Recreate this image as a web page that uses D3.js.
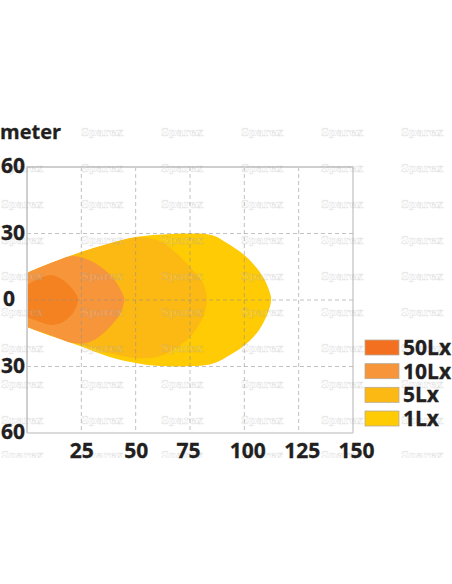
<!DOCTYPE html>
<html>
<head>
<meta charset="utf-8">
<script src="https://cdn.jsdelivr.net/npm/d3@7"></script>
<style>
html,body{margin:0;padding:0;background:#fff;overflow:hidden}
svg{display:block}
text{font-family:"Open Sans",sans-serif;font-weight:700;fill:#231f20;stroke:#231f20;stroke-width:.3}
text.wm{font-family:"DejaVu Serif",serif;font-size:11px;fill:#fff;fill-opacity:.14;stroke:#8a8a8a;stroke-opacity:.22;stroke-width:.7}
</style>
</head>
<body>
<div id="viz"></div>
<script>
// values: [metres ahead, metres across]
const lx1 = [[0,12.2],[12,17],[25,21.6],[38,25.5],[50,28.4],[66,29.8],[75,30],[81,29.9],[86,29],[92,25.7],[101,19.4],[108.6,10.4],[112,2.5],[112.3,0],[111.3,-4.5],[106.8,-13.5],[99.4,-21],[92,-25.6],[87,-28.2],[81,-29.6],[75,-29.9],[61,-29.8],[50,-28.4],[38,-25.7],[25,-21],[12,-16.5],[0,-12.2]]
const lx5 = [[0,12.2],[12,17],[25,21.6],[38,25.5],[50,28.2],[56,28],[61,26.6],[67.2,22.5],[75,14.9],[81,7.7],[82.8,0],[81,-7.7],[75,-16.7],[67.2,-22.5],[59.8,-25.7],[50,-26.2],[38.2,-24],[25,-20.3],[12,-16.5],[0,-12.2]]
const lx10 = [[0,12.2],[12,17],[21.2,19.8],[30.4,17.1],[39.6,9.9],[44.6,1.4],[44.8,0],[43,-5.9],[36.8,-13.5],[29,-18.9],[21.2,-19.4],[10.6,-15.8],[0,-12.2]]
const lx50 = [[0,6.8],[10.6,11.3],[16.6,9],[22,3.6],[23.5,0],[21.2,-5.9],[16.6,-9.9],[11.5,-11.3],[6,-9.9],[0,-7.7]]

const legendNames = ["50Lx","10Lx","5Lx","1Lx"]
const legendColors = ["#f37021","#f7953b","#fdb913","#ffcb05"]
const xTicks = [25,50,75,100,125,150]
const yTicks = [60,30,0,-30,-60]
const stampColumns = [22,102,182,262,342,422]
const stampRows = [132,168,204,240,276,312,348,384,420,455]

const width = 452, height = 584
const plotLeft = 27, plotRight = 353, plotTop = 167, plotBottom = 433

const svg = d3.select("#viz").append("svg").attr("width",width).attr("height",height)
const x = d3.scaleLinear().domain([0,150]).range([plotLeft,plotRight])
const y = d3.scaleLinear().domain([60,-60]).range([plotTop,plotBottom])

// light patterns, widest first
const outline = d3.line().x(d => x(d[0])).y(d => y(d[1])).curve(d3.curveCatmullRom.alpha(0.5))
const shapes = [[lx1,"#ffcb05"],[lx5,"#fdb913"],[lx10,"#f7953b"],[lx50,"#f58220"]]
svg.selectAll("path.beam").data(shapes).join("path")
  .attr("class","beam")
  .attr("d",d => outline(d[0]) + "Z")
  .attr("fill",d => d[1])

// grid sits on top of the colours
const grid = svg.append("g").attr("fill","none").attr("stroke","#8f8f8f").attr("stroke-opacity",.55).attr("stroke-width",1).attr("stroke-dasharray","4 3")
xTicks.slice(0,-1).forEach(t => {
  grid.append("line").attr("x1",x(t)).attr("x2",x(t)).attr("y1",plotTop).attr("y2",plotBottom)
})
yTicks.slice(1,-1).forEach(t => {
  grid.append("line").attr("x1",plotLeft).attr("x2",plotRight).attr("y1",y(t)).attr("y2",y(t))
})

// frame
const frame = svg.append("g").attr("fill","none")
frame.append("line").attr("x1",plotRight).attr("x2",plotRight).attr("y1",plotTop).attr("y2",plotBottom).attr("stroke","#b5b5b5").attr("stroke-width",1)
frame.append("line").attr("x1",plotLeft).attr("x2",plotRight).attr("y1",plotBottom).attr("y2",plotBottom).attr("stroke","#cfcfcf").attr("stroke-width",1.5)
frame.append("line").attr("x1",plotLeft).attr("x2",plotRight).attr("y1",plotTop).attr("y2",plotTop).attr("stroke","#cfcfcf").attr("stroke-width",2)
frame.append("line").attr("x1",plotLeft).attr("x2",plotLeft).attr("y1",plotTop).attr("y2",plotBottom).attr("stroke","#cfcfcf").attr("stroke-width",2)

// repeated stamp
svg.append("clipPath").attr("id","stampClip").append("rect").attr("width",width).attr("height",458)
const stamps = svg.append("g").attr("clip-path","url(#stampClip)")
stampRows.forEach(r => {
  stampColumns.forEach(c => {
    if (r == 132 && c == 22) return
    stamps.append("text").attr("class","wm").attr("x",c).attr("y",r).attr("dy","0.35em").attr("text-anchor","middle").text("Sparex")
  })
})

// axes
const xAxis = svg.append("g").attr("transform","translate(0,458)")
  .call(d3.axisBottom(x).tickValues(xTicks).tickSize(0).tickPadding(0))
const yAxis = svg.append("g").attr("transform","translate(25,-2)")
  .call(d3.axisLeft(y).tickValues(yTicks).tickSize(0).tickPadding(0).tickFormat(d => Math.abs(d)))
xAxis.select(".domain").remove()
yAxis.select(".domain").remove()
// the printed labels drift a little from their grid lines
xAxis.selectAll("text").attr("dy",0).attr("y",0).attr("x",d => d >= 100 ? 3 : d == 75 ? -2 : 0)
yAxis.selectAll("text").attr("dy","0.36em").attr("x",d => d == 0 ? -10 : 0)
svg.selectAll("g.tick text").style("font-family","\"Open Sans\",sans-serif").style("font-weight",700).style("font-size","21px").attr("fill","#231f20")

svg.append("text").attr("x",0).attr("y",139).style("font-size","20px").text("meter")

// legend
const legendY = d3.scalePoint().domain(legendNames).range([347.5,418.5])
const legend = svg.selectAll("g.key").data(legendNames).join("g")
  .attr("class","key")
  .attr("transform",d => `translate(365,${legendY(d)})`)
legend.append("rect").attr("y",-7.5).attr("width",34).attr("height",15)
  .attr("fill",(d,i) => legendColors[i]).attr("stroke","#b8ab97").attr("stroke-width",.8)
legend.append("text").attr("x",38).attr("y",7.5).style("font-size","21px").text(d => d)
</script>
</body>
</html>
